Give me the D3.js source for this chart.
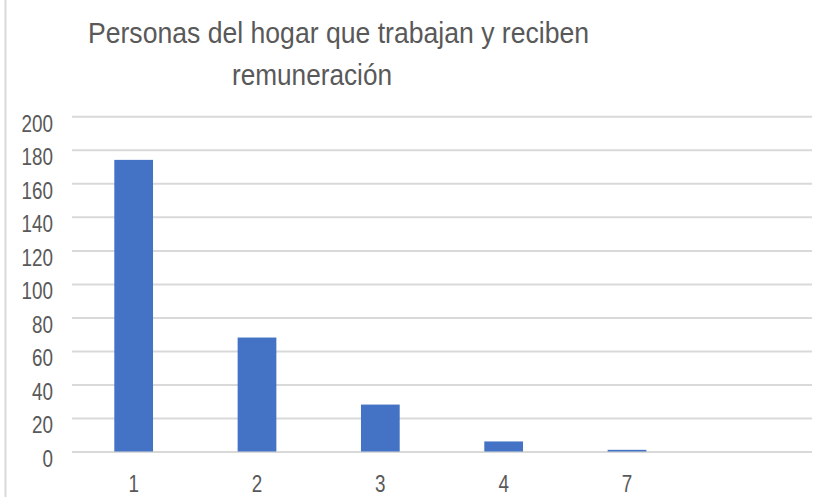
<!DOCTYPE html>
<html>
<head>
<meta charset="utf-8">
<script src="https://cdn.jsdelivr.net/npm/d3@7"></script>
<style>
  html, body { margin: 0; padding: 0; background: #fff; }
  svg { display: block; }
  text { font-family: "Liberation Sans", Arial, sans-serif; fill: #595959; }
</style>
</head>
<body>
<svg id="chart" width="825" height="499"></svg>
<script>
// Number of working, paid people per household (last slot is an empty category)
const categories = ["1", "2", "3", "4", "7", ""];
const counts = [174, 68, 28, 6, 1, null];
const yTicks = [0, 20, 40, 60, 80, 100, 120, 140, 160, 180, 200];
const titleLines = ["Personas del hogar que trabajan y reciben", "remuneración"];

const svg = d3.select("#chart");
const plot = { left: 72, right: 812, top: 116.3, bottom: 451.5 };
const narrow = 0.82; // horizontal squeeze for a condensed look
const labelFont = "\"Liberation Sans\", Arial, sans-serif";

// frame edge on the left side
svg.append("line")
  .attr("x1", 5.5).attr("x2", 5.5).attr("y1", 0).attr("y2", 497)
  .attr("stroke", "#d9d9d9").attr("stroke-width", 2);

const x = d3.scaleBand()
  .domain(categories)
  .range([plot.left, plot.right])
  .paddingInner(0.686)
  .paddingOuter(0.343);

const y = d3.scaleLinear()
  .domain([0, 200])
  .range([plot.bottom, plot.top]);

// horizontal gridlines with value labels
const yAxis = d3.axisLeft(y).tickValues(yTicks).tickSize(-(plot.right - plot.left)).tickFormat(d3.format("d"));
const gy = svg.append("g")
  .attr("transform", `translate(${plot.left},0)`)
  .call(yAxis);
gy.select(".domain").remove();
gy.selectAll(".tick line").attr("stroke", "#d9d9d9").attr("stroke-width", 2);
gy.selectAll(".tick text")
  .attr("x", 0)
  .attr("y", 0)
  .attr("dy", null)
  .attr("transform", `translate(-19,15) scale(${narrow},1)`)
  .attr("text-anchor", "end")
  .style("font-size", "23px")
  .style("fill", "#595959")
  .style("font-family", labelFont);

// bars
svg.append("g")
  .selectAll("rect")
  .data(categories.map((c, i) => ({ c, v: counts[i] })).filter(d => d.v != null))
  .join("rect")
  .attr("x", d => x(d.c))
  .attr("y", d => y(d.v))
  .attr("width", x.bandwidth())
  .attr("height", d => y(0) - y(d.v))
  .attr("fill", "#4472c4");

// category labels
const xAxis = d3.axisBottom(x).tickSize(0);
const gx = svg.append("g")
  .attr("transform", `translate(0,${plot.bottom})`)
  .call(xAxis);
gx.select(".domain").remove();
gx.selectAll(".tick text")
  .attr("y", 0)
  .attr("dy", null)
  .attr("transform", `translate(0,40) scale(${narrow},1)`)
  .style("font-size", "23px")
  .style("fill", "#595959")
  .style("font-family", labelFont);

// title, two lines
const title = svg.append("g");
title.append("text")
  .attr("x", 88).attr("y", 43)
  .attr("textLength", 501).attr("lengthAdjust", "spacingAndGlyphs")
  .style("font-size", "29px")
  .text(titleLines[0]);
title.append("text")
  .attr("x", 232).attr("y", 85)
  .attr("textLength", 160).attr("lengthAdjust", "spacingAndGlyphs")
  .style("font-size", "29px")
  .text(titleLines[1]);
</script>
</body>
</html>
